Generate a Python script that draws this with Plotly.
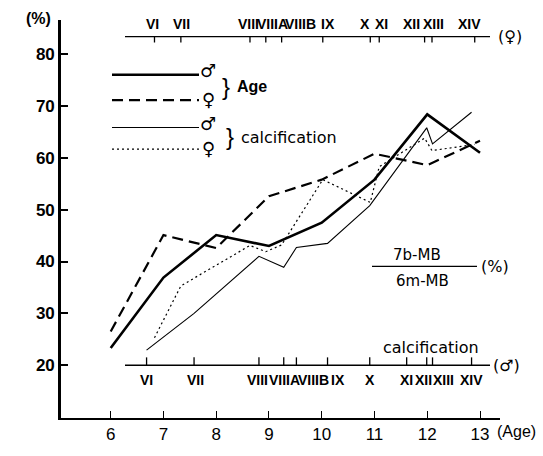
import plotly.graph_objects as go

# Ratio 7b-MB / 6m-MB (%) by chronological age
ages = [6, 7, 8, 9, 10, 11, 12, 13]
male_by_age = [23.3, 36.9, 45.1, 43.0, 47.5, 55.8, 68.4, 61.0]
female_by_age = [26.5, 45.1, 42.6, 52.6, 55.8, 60.8, 58.6, 63.3]

# Same ratio by calcification stage, placed at each stage's mean age
stages = ["VI", "VII", "VIII", "VIIIA", "VIIIB", "IX", "X", "XI", "XII", "XIII", "XIV"]
male_stage_age = [6.68, 7.58, 8.81, 9.28, 9.52, 10.11, 10.91, 11.61, 11.99, 12.10, 12.84]
male_by_stage = [22.9, 30.0, 41.0, 38.9, 42.7, 43.5, 50.8, 60.5, 65.8, 62.7, 68.8]
female_stage_age = [6.83, 7.33, 8.64, 8.94, 9.24, 10.02, 10.92, 11.09, 11.95, 12.09, 12.90]
female_by_stage = [25.3, 35.3, 43.1, 41.9, 43.2, 55.8, 51.4, 58.3, 63.8, 61.4, 62.6]

y_ticks = [20, 30, 40, 50, 60, 70, 80]

# ---- geometry (pixels on a 543 x 456 canvas) ----
W, H = 543, 456
L, R, T, B = 61, 500, 20, 427
X_RANGE = [5.058, 13.379]
Y_RANGE = [9.81, 86.6]


def xpix(v):
    return L + (v - X_RANGE[0]) / (X_RANGE[1] - X_RANGE[0]) * (R - L)


def pxp(p):  # pixel x -> paper
    return (p - L) / (R - L)


def pyp(p):  # pixel y -> paper
    return (B - p) / (B - T)


SANS = "Liberation Sans, Arial, sans-serif"
WIDE = "DejaVu Sans, sans-serif"
NUMERAL = "Liberation Sans Narrow, Liberation Sans, Arial, sans-serif"

THICK = dict(color="black", width=2.6)
DASHED = dict(color="black", width=2.2, dash="11px,6px")
THIN = dict(color="black", width=1.1)
DOTTED = dict(color="black", width=1.2, dash="2px,3px")

fig = go.Figure()
fig.add_trace(go.Scatter(x=ages, y=male_by_age, mode="lines", line=THICK))
fig.add_trace(go.Scatter(x=ages, y=female_by_age, mode="lines", line=DASHED))
fig.add_trace(go.Scatter(x=male_stage_age, y=male_by_stage, mode="lines", line=THIN))
fig.add_trace(go.Scatter(x=female_stage_age, y=female_by_stage, mode="lines", line=DOTTED))

shapes = []
annotations = []


def text(px, py, s, size=16, family=SANS, xanchor="center", yanchor="middle", bold=False):
    annotations.append(dict(
        x=pxp(px), y=pyp(py), xref="paper", yref="paper", text=f"<b>{s}</b>" if bold else s,
        showarrow=False, xanchor=xanchor, yanchor=yanchor,
        font=dict(family=family, size=size, color="black")))


# ---- stage axes: female on top, male along the 20 % line ----
F_BASE, M_BASE = 37, 373
shapes.append(dict(type="line", xref="paper", yref="paper", x0=pxp(125), x1=pxp(490),
                   y0=pyp(F_BASE), y1=pyp(F_BASE), line=dict(color="black", width=1.4)))
shapes.append(dict(type="line", xref="paper", yref="paper", x0=pxp(125), x1=pxp(490),
                   y0=pyp(M_BASE), y1=pyp(M_BASE), line=dict(color="black", width=1.4)))

# label nudges (px) where neighbouring numerals crowd together
f_nudge = [-2, 1, -1, 7, 19, 5, -5, 2, -13, 2, -5]
m_nudge = [0, 1, -1, 1, 17, 10, 0, 0, -3, 11, 0]

for s, a, dx in zip(stages, female_stage_age, f_nudge):
    xp = xpix(a)
    shapes.append(dict(type="line", xref="paper", yref="paper", x0=pxp(xp), x1=pxp(xp),
                       y0=pyp(F_BASE), y1=pyp(F_BASE + 6), line=dict(color="black", width=1.3)))
    text(xp + dx, 24, s, size=14, family=NUMERAL, bold=True)

for s, a, dx in zip(stages, male_stage_age, m_nudge):
    xp = xpix(a)
    shapes.append(dict(type="line", xref="paper", yref="paper", x0=pxp(xp), x1=pxp(xp),
                       y0=pyp(M_BASE), y1=pyp(M_BASE - 8), line=dict(color="black", width=1.3)))
    text(xp + dx, 388, s, size=14, family=NUMERAL, bold=True)

text(510, 37, "(♀)", size=16, family=WIDE)
text(506, 373, "(♂)", size=16, family=WIDE)
text(431, 355, "calcification", size=16, family=WIDE)

# ---- legend ----
for yl, st in [(76, THICK), (102, DASHED), (130, THIN), (152, DOTTED)]:
    shapes.append(dict(type="line", xref="paper", yref="paper", x0=pxp(112), x1=pxp(199),
                       y0=pyp(yl), y1=pyp(yl), line=st))
text(208, 72, "♂", size=18, family=WIDE)
text(208, 101, "♀", size=18, family=WIDE)
text(208, 126, "♂", size=18, family=WIDE)
text(208, 151, "♀", size=18, family=WIDE)
text(226, 88, "}", size=24, family=SANS)
text(230, 139, "}", size=24, family=SANS)
text(235, 88, "Age", size=16, xanchor="left", bold=True)
text(239, 140, "calcification", size=16, family=WIDE, xanchor="left")

# ---- ratio label ----
text(417, 260, "7b-MB", size=15, family=WIDE)
shapes.append(dict(type="line", xref="paper", yref="paper", x0=pxp(372), x1=pxp(477),
                   y0=pyp(272), y1=pyp(272), line=dict(color="black", width=1.2)))
text(422, 287, "6m-MB", size=15, family=WIDE)
text(495, 272, "(%)", size=16, family=WIDE)

# ---- axis captions ----
text(38, 18, "<b>(%)</b>", size=16)
text(516, 441, "(Age)", size=16)

fig.update_layout(
    width=W, height=H,
    margin=dict(l=L, r=W - R, t=T, b=H - B, pad=0),
    paper_bgcolor="white", plot_bgcolor="white",
    showlegend=False,
    shapes=shapes, annotations=annotations,
    xaxis=dict(range=X_RANGE, tickvals=ages, ticktext=[str(a) for a in ages],
               showgrid=False, zeroline=False, showline=True, linecolor="black", linewidth=1.6,
               ticks="inside", ticklen=7, tickwidth=1.3, tickcolor="black",
               tickfont=dict(family=SANS, size=17, color="black")),
    yaxis=dict(range=Y_RANGE, tickvals=y_ticks, ticktext=[f"<b>{v}</b>" for v in y_ticks],
               showgrid=False, zeroline=False, showline=True, linecolor="black", linewidth=2.6,
               ticks="inside", ticklen=7, tickwidth=1.5, tickcolor="black",
               tickfont=dict(family=SANS, size=17, color="black")),
)

fig.write_html("out.html")
